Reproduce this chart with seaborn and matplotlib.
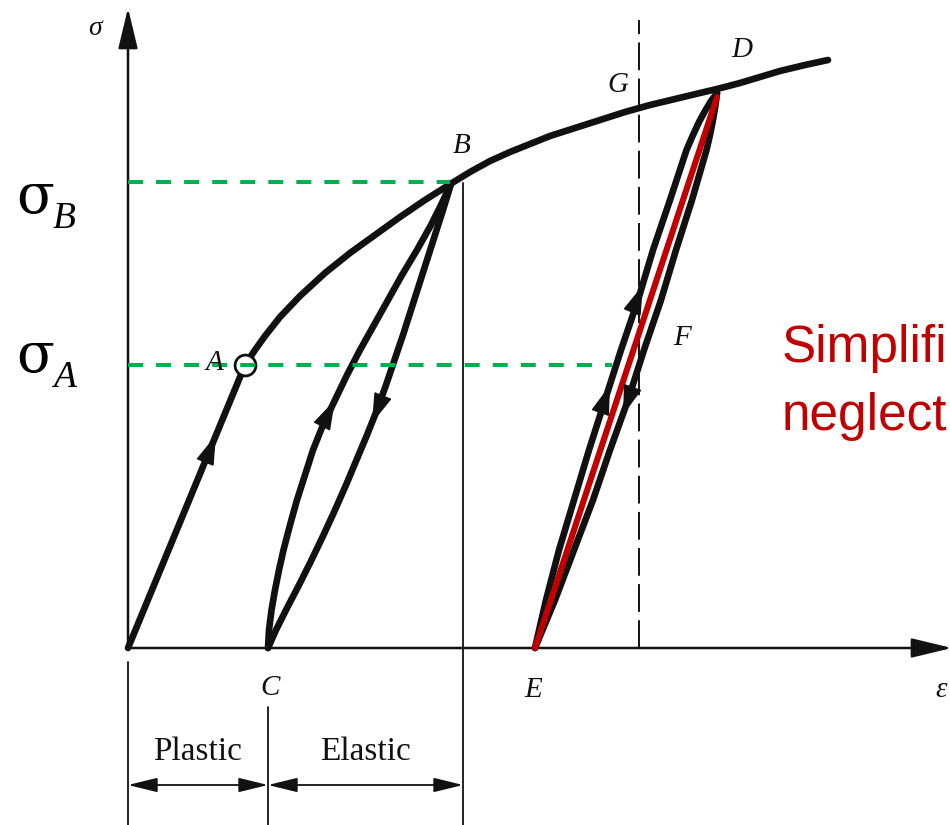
import matplotlib
matplotlib.use("Agg")
import matplotlib.pyplot as plt
import seaborn as sns

# ---- stress-strain data (strain eps, stress sig, arbitrary units) ----
# monotonic loading curve O -> A -> B -> G -> D -> end
load_eps = [0.00, 1.17, 1.27, 1.37, 1.52, 1.72, 1.97, 2.22, 2.47, 2.72, 2.97,
            3.24, 3.42, 3.62, 3.82, 4.02, 4.22, 4.47, 4.72, 4.97, 5.22, 5.47,
            5.72, 5.89, 6.12, 6.32, 6.52, 6.77, 7.00]
load_sig = [0.00, 2.83, 2.98, 3.12, 3.31, 3.52, 3.75, 3.95, 4.13, 4.31, 4.48,
            4.65, 4.76, 4.87, 4.96, 5.04, 5.12, 5.20, 5.28, 5.36, 5.43, 5.49,
            5.55, 5.59, 5.65, 5.71, 5.77, 5.83, 5.88]

# reloading branch C -> B
reload_cb_eps = [1.40, 1.41, 1.435, 1.47, 1.51, 1.555, 1.62, 1.69, 1.77, 1.85,
                 1.95, 2.07, 2.19, 2.32, 2.46, 2.60, 2.74, 2.89, 3.03, 3.13,
                 3.20, 3.23]
reload_cb_sig = [0.00, 0.18, 0.38, 0.58, 0.78, 0.98, 1.23, 1.48, 1.73, 1.98,
                 2.23, 2.48, 2.73, 2.98, 3.23, 3.48, 3.73, 3.98, 4.23, 4.43,
                 4.58, 4.64]

# unloading branch B -> C
unload_bc_eps = [3.23, 3.15, 3.07, 2.99, 2.91, 2.83, 2.75, 2.665, 2.58, 2.49,
                 2.39, 2.285, 2.18, 2.07, 1.955, 1.835, 1.71, 1.58, 1.48, 1.40]
unload_bc_sig = [4.64, 4.38, 4.13, 3.88, 3.63, 3.38, 3.13, 2.88, 2.63, 2.38,
                 2.13, 1.88, 1.63, 1.38, 1.13, 0.88, 0.63, 0.38, 0.18, 0.00]

# reloading branch E -> D
reload_ed_eps = [4.07, 4.18, 4.31, 4.46, 4.61, 4.77, 4.93, 5.10, 5.25, 5.42,
                 5.585, 5.65, 5.71, 5.77, 5.83, 5.89]
reload_ed_sig = [0.00, 0.48, 0.98, 1.48, 1.98, 2.48, 2.98, 3.48, 3.98, 4.48,
                 4.98, 5.13, 5.26, 5.37, 5.47, 5.55]

# unloading branch D -> E
unload_de_eps = [5.89, 5.875, 5.85, 5.82, 5.785, 5.64, 5.48, 5.33, 5.16, 5.00,
                 4.82, 4.65, 4.46, 4.27, 4.07]
unload_de_sig = [5.55, 5.43, 5.28, 5.13, 4.98, 4.48, 3.98, 3.48, 2.98, 2.48,
                 1.98, 1.48, 0.98, 0.48, 0.00]

# simplified linear unloading/reloading E - D
simple_eps = [4.07, 5.89]
simple_sig = [0.00, 5.51]

# characteristic points
point_a = (1.17, 2.83)
sigma_a = 2.83
sigma_b = 4.66
eps_a_end = 4.84       # end of the sigma_A guide line
eps_b_end = 3.22       # end of the sigma_B guide line
eps_g = 5.11           # dashed vertical through G
eps_c = 1.40
eps_b_line = 3.35      # thin vertical below B

# direction markers on the paths: (tip_eps, tip_sig, tail_eps, tail_sig)
path_arrows = [
    (0.88, 2.13, 0.80, 1.93),   # O -> A
    (2.07, 2.48, 1.97, 2.28),   # C -> B
    (2.44, 2.25, 2.52, 2.45),   # B -> C
    (4.82, 2.63, 4.75, 2.43),   # E -> D
    (5.15, 3.63, 5.07, 3.43),   # E -> D
    (4.95, 2.33, 5.02, 2.53),   # D -> E
]

# point labels: (text, eps, sig)
point_labels = [("B", 3.34, 4.95), ("G", 4.90, 5.56), ("D", 6.14, 5.91),
                ("A", 0.86, 2.78), ("C", 1.42, -0.47), ("E", 4.05, -0.49),
                ("F", 5.54, 3.03)]

region_labels = [("Plastic", 0.70), ("Elastic", 2.37)]
note_lines = ["Simplifi", "neglect"]

# ---- styling ----
sns.set_theme(style="white")
plt.rcParams["font.family"] = ["Liberation Serif", "DejaVu Serif"]
plt.rcParams["lines.scale_dashes"] = False

BLACK = "#111111"
RED = "#C00000"
GREEN = "#00B050"

fig = plt.figure(figsize=(9.5, 8.25), dpi=100)
ax = fig.add_axes([0, 0, 1, 1])
ax.set_xlim(-1.28, 8.22)
ax.set_ylim(-1.77, 6.48)
ax.axis("off")


def curve(eps, sig, color=BLACK, lw=4.8, z=3):
    sns.lineplot(x=eps, y=sig, sort=False, estimator=None, color=color,
                 linewidth=lw, ax=ax, zorder=z,
                 solid_capstyle="round", solid_joinstyle="round")


# axes with arrow heads
axis_arrow = dict(arrowstyle="-|>,head_length=1.25,head_width=0.3",
                  mutation_scale=20, color=BLACK, lw=1.8,
                  shrinkA=0, shrinkB=0)
ax.annotate("", xy=(0, 6.40), xytext=(0, 0), arrowprops=axis_arrow,
            zorder=2, annotation_clip=False)
ax.annotate("", xy=(8.24, 0), xytext=(0, 0), arrowprops=axis_arrow,
            zorder=2, annotation_clip=False)

# thin reference lines
ax.plot([eps_b_line, eps_b_line], [sigma_b - 0.01, -1.80], color=BLACK, lw=1.3, zorder=2)
ax.plot([0, 0], [-0.14, -1.80], color=BLACK, lw=1.3, zorder=2)
ax.plot([eps_c, eps_c], [-0.59, -1.80], color=BLACK, lw=1.3, zorder=2)
ax.plot([eps_g, eps_g], [0, 6.28], color=BLACK, lw=1.4,
        dashes=(20, 6), zorder=2)

# dimension arrows
dim_arrow = dict(arrowstyle="<|-|>,head_length=0.9,head_width=0.22",
                 mutation_scale=20, color=BLACK, lw=1.3,
                 shrinkA=0, shrinkB=0)
ax.annotate("", xy=(0, -1.37), xytext=(eps_c, -1.37), arrowprops=dim_arrow)
ax.annotate("", xy=(eps_c, -1.37), xytext=(eps_b_line, -1.37), arrowprops=dim_arrow)
for txt, x in region_labels:
    ax.text(x, -1.12, txt, fontsize=24, ha="center", va="baseline", color=BLACK)

# curves
curve(load_eps, load_sig)
curve(reload_cb_eps, reload_cb_sig)
curve(unload_bc_eps, unload_bc_sig)
curve(reload_ed_eps, reload_ed_sig)
curve(unload_de_eps, unload_de_sig)
curve(simple_eps, simple_sig, color=RED, lw=4.4, z=4)

# direction markers
for tx, ty, sx, sy in path_arrows:
    ax.annotate("", xy=(tx, ty), xytext=(sx, sy), zorder=5,
                arrowprops=dict(arrowstyle="-|>,head_length=0.8,head_width=0.25",
                                mutation_scale=24, color=BLACK, lw=1,
                                shrinkA=0, shrinkB=0))

# yield point A
ax.plot([point_a[0]], [point_a[1]], marker="o", markersize=15,
        markerfacecolor="white", markeredgecolor=BLACK, markeredgewidth=2,
        zorder=6)

# stress guide lines
ax.plot([0, eps_b_end], [sigma_b, sigma_b], color=GREEN, lw=2.9,
        dashes=(10.8, 9.4), zorder=7)
ax.plot([0, eps_a_end], [sigma_a, sigma_a], color=GREEN, lw=2.9,
        dashes=(10.8, 9.4), zorder=7)

# labels
for txt, x, y in point_labels:
    ax.text(x, y, txt, fontsize=21, fontstyle="italic", ha="center",
            va="baseline", color=BLACK, zorder=8)
ax.text(-0.33, 6.13, "σ", fontsize=20, fontstyle="italic", ha="center",
        va="baseline", color=BLACK)
ax.text(8.07, -0.49, "ε", fontsize=21, fontstyle="italic", ha="left",
        va="baseline", color=BLACK)

for sub, base in (("B", 4.35), ("A", 2.76)):
    ax.text(-1.12, base, "σ", fontsize=40, ha="left", va="baseline",
            color="black", family=["DejaVu Serif"])
    ax.text(-0.75, base - 0.15, sub, fontsize=27, fontstyle="italic",
            ha="left", va="baseline", color="black")

# simplification note
for i, line in enumerate(note_lines):
    ax.text(6.54, 2.86 - 0.68 * i, line, fontsize=37, color=RED,
            family=["Liberation Sans", "DejaVu Sans"], ha="left", va="baseline")

fig.savefig("out.png", dpi=100)
